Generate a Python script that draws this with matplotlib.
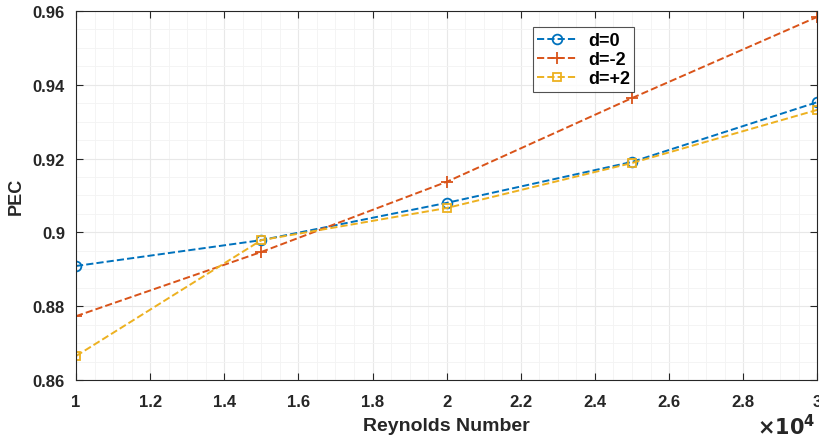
import matplotlib
matplotlib.use("Agg")
import matplotlib.pyplot as plt
from matplotlib.ticker import MultipleLocator, FormatStrFormatter

plt.rcParams['font.family'] = ['Liberation Sans', 'DejaVu Sans']
plt.rcParams['font.weight'] = 'bold'

re_vals = [1.0, 1.5, 2.0, 2.5, 3.0]  # x 10^4
pec_d0 = [0.8909, 0.8979, 0.9080, 0.9191, 0.9353]
pec_dm2 = [0.8773, 0.8947, 0.9137, 0.9364, 0.9584]
pec_dp2 = [0.8665, 0.8979, 0.9066, 0.9188, 0.9332]
labels = ['d=0', 'd=-2', 'd=+2']
colors = ['#0072BD', '#D95319', '#EDB120']

fig = plt.figure(figsize=(8.2, 4.39), dpi=100)
ax = fig.add_axes([0.0927, 0.1321, 0.9040, 0.8406])

ax.plot(re_vals, pec_d0, '--', color=colors[0], marker='o', mfc='none', ms=7, mew=1.3, lw=1.4, label=labels[0])
ax.plot(re_vals, pec_dm2, '--', color=colors[1], marker='+', ms=9, mew=1.3, lw=1.4, label=labels[1])
ax.plot(re_vals, pec_dp2, '--', color=colors[2], marker='s', mfc='none', ms=6, mew=1.3, lw=1.4, label=labels[2])

ax.set_xlim(1, 3)
ax.set_ylim(0.86, 0.96)
ax.xaxis.set_major_locator(MultipleLocator(0.2))
ax.xaxis.set_minor_locator(MultipleLocator(0.05))
ax.yaxis.set_major_locator(MultipleLocator(0.02))
ax.yaxis.set_minor_locator(MultipleLocator(0.005))
ax.xaxis.set_major_formatter(FormatStrFormatter('%g'))
ax.yaxis.set_major_formatter(FormatStrFormatter('%g'))

ax.grid(which='major', color='#e8e8e8', lw=0.8)
ax.grid(which='minor', color='#f3f3f3', lw=0.6)
ax.set_axisbelow(True)
ax.tick_params(which='both', direction='in', top=True, right=True, colors='#262626', labelsize=12)
ax.tick_params(which='minor', length=0)
ax.tick_params(axis='x', which='major', length=5, pad=10)
ax.tick_params(axis='y', which='major', length=5, pad=8)
for lab in ax.get_xticklabels() + ax.get_yticklabels():
    lab.set_fontweight('bold')
for s in ax.spines.values():
    s.set_color('#262626')
    s.set_linewidth(0.8)

ax.set_xlabel('Reynolds Number', fontsize=14, fontweight='bold', color='#262626', labelpad=6)
ax.set_ylabel('PEC', fontsize=13, fontweight='bold', color='#262626', labelpad=6)

fig.text(0.994, 0.0, r'$\times\mathbf{10^{4}}$', ha='right', va='bottom', fontsize=15, color='#262626')

leg = ax.legend(loc='upper left', bbox_to_anchor=(0.604, 0.98), fontsize=13, frameon=True,
                fancybox=False, edgecolor='#262626', handlelength=2.2, borderpad=0.25,
                labelspacing=0.12, handletextpad=0.6)
leg.get_frame().set_linewidth(0.8)
for t in leg.get_texts():
    t.set_fontweight('bold')

fig.savefig('out.png', dpi=100)
